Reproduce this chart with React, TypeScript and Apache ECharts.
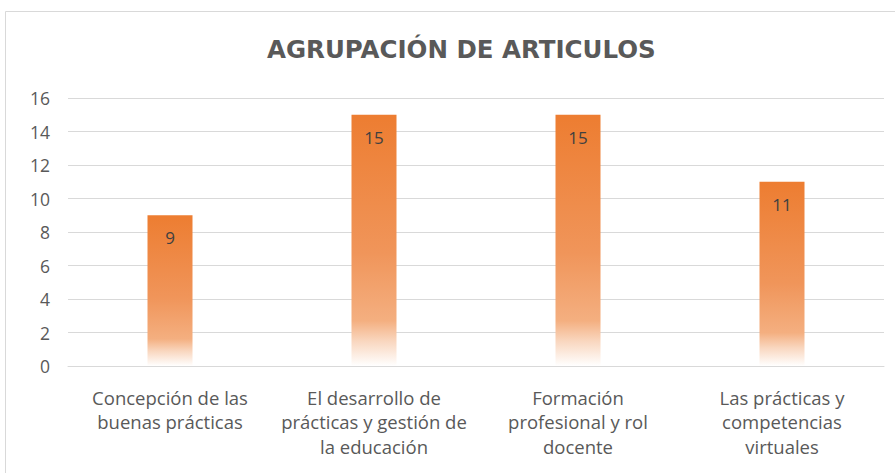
import React, { useEffect, useRef } from "react";
import * as echarts from "echarts";

const categories = [
  "Concepción de las\nbuenas prácticas",
  "El desarrollo de\nprácticas y gestión de\nla educación",
  "Formación\nprofesional y rol\ndocente",
  "Las prácticas y\ncompetencias\nvirtuales",
];
const values = [9, 15, 15, 11];
const titleText = "AGRUPACIÓN DE ARTICULOS";

export default function App() {
  const ref = useRef<HTMLDivElement>(null);
  useEffect(() => {
    if (!ref.current) return;
    const chart = echarts.init(ref.current, undefined, { renderer: "svg" });
    chart.setOption({
      animation: false,
      backgroundColor: "#ffffff",
      graphic: [
        {
          type: "rect",
          shape: { x: 5.5, y: 11.5, width: 900, height: 480 },
          style: { fill: "none", stroke: "#d9d9d9", lineWidth: 1 },
          silent: true,
          z: -1,
        },
      ],
      title: {
        text: titleText,
        left: 262,
        top: 32,
        textStyle: {
          fontFamily: "DejaVu Sans",
          fontWeight: "bold",
          fontSize: 24.5,
          color: "#595959",
        },
      },
      grid: { left: 68, right: 11, top: 98, bottom: 107, containLabel: false },
      xAxis: {
        type: "category",
        data: categories,
        axisTick: { show: false },
        axisLine: { lineStyle: { color: "#d9d9d9", width: 1 } },
        axisLabel: {
          color: "#595959",
          fontFamily: "Open Sans",
          fontSize: 18.5,
          lineHeight: 24.5,
          margin: 19,
          interval: 0,
        },
      },
      yAxis: {
        type: "value",
        min: 0,
        max: 16,
        interval: 2,
        axisLine: { show: false },
        axisTick: { show: false },
        splitLine: { lineStyle: { color: "#d9d9d9", width: 1 } },
        axisLabel: {
          color: "#595959",
          fontFamily: "Open Sans",
          fontSize: 17.5,
          margin: 18,
        },
      },
      series: [
        {
          type: "bar",
          data: values,
          barWidth: 45,
          itemStyle: {
            color: new echarts.graphic.LinearGradient(0, 0, 0, 1, [
              { offset: 0, color: "#ED7D31" },
              { offset: 0.55, color: "#F0955A" },
              { offset: 0.82, color: "#F4AF80" },
              { offset: 0.9, color: "#F9D6BE" },
              { offset: 1, color: "#FFFFFF" },
            ]),
          },
          label: {
            show: true,
            position: "insideTop",
            distance: 14,
            color: "#404040",
            fontFamily: "Open Sans",
            fontSize: 17,
          },
        },
      ],
    });
    return () => chart.dispose();
  }, []);
  return (
    <div
      ref={ref}
      style={{ position: "fixed", left: 0, top: 0, width: 895, height: 473 }}
    />
  );
}
